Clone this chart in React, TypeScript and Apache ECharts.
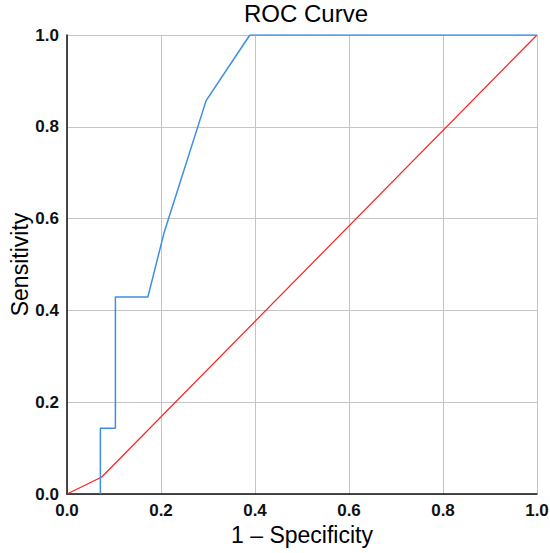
import React, { useEffect, useRef } from "react";
import * as echarts from "echarts";

const xTicks = [0, 0.2, 0.4, 0.6, 0.8, 1.0];
const rocCurve: [number, number][] = [
  [0.071, 0],
  [0.071, 0.143],
  [0.103, 0.143],
  [0.103, 0.429],
  [0.172, 0.429],
  [0.207, 0.571],
  [0.296, 0.857],
  [0.389, 1.0],
  [1.0, 1.0],
];
const referenceLine: [number, number][] = [
  [0, 0],
  [0.074, 0.037],
  [1.0, 1.0],
];

const FONT = "'Liberation Sans', Arial, sans-serif";

export default function App() {
  const ref = useRef<HTMLDivElement>(null);
  useEffect(() => {
    if (!ref.current) return;
    const chart = echarts.init(ref.current, undefined, { renderer: "svg" });
    const axisCommon = {
      type: "value" as const,
      min: xTicks[0],
      max: xTicks[xTicks.length - 1],
      interval: 0.2,
      nameLocation: "middle" as const,
      nameMoveOverlap: false,
      nameTextStyle: { fontSize: 23, color: "#000", fontFamily: FONT },
      axisLine: { show: true, lineStyle: { color: "#111", width: 1.5 } },
      axisTick: { show: false },
      axisLabel: {
        fontSize: 17,
        fontWeight: "bold" as const,
        color: "#111",
        fontFamily: FONT,
        margin: 8,
        formatter: (v: number) => v.toFixed(1),
      },
      splitLine: { show: true, lineStyle: { color: "#c4c4c4", width: 1 } },
    };
    chart.setOption({
      animation: false,
      backgroundColor: "#fff",
      title: {
        text: "ROC Curve",
        left: 301,
        textAlign: "center",
        top: -4,
        textStyle: { fontSize: 24, fontWeight: "normal", color: "#000", fontFamily: FONT },
      },
      grid: {
        left: 67,
        right: 13,
        top: 35,
        bottom: 59,
        containLabel: false,
        outerBoundsMode: "none",
      },
      xAxis: { ...axisCommon, name: "1 – Specificity", nameGap: 29 },
      yAxis: { ...axisCommon, name: "Sensitivity", nameGap: 36 },
      series: [
        {
          type: "line",
          data: referenceLine,
          showSymbol: false,
          lineStyle: { color: "#ff2020", width: 1.2 },
          z: 2,
        },
        {
          type: "line",
          data: rocCurve,
          showSymbol: false,
          lineStyle: { color: "#3a8ee8", width: 1.5 },
          z: 3,
        },
      ],
    });
    return () => chart.dispose();
  }, []);
  return (
    <div
      ref={ref}
      style={{ position: "fixed", left: 0, top: 0, width: 550, height: 553 }}
    />
  );
}
